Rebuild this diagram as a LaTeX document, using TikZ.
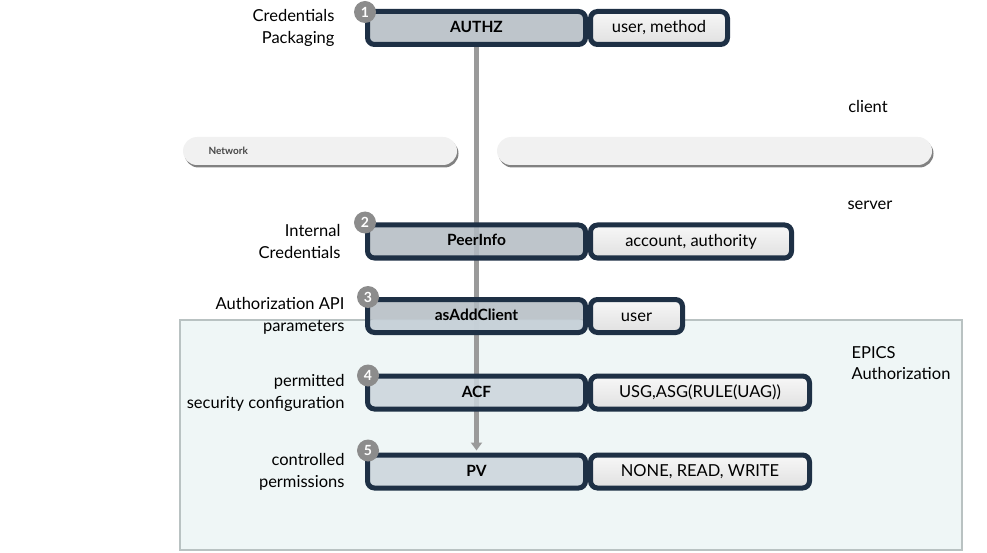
\documentclass[tikz,border=0pt]{standalone}
\usepackage{fontspec}
\setmainfont{Lato}
\usetikzlibrary{arrows.meta,shadows,backgrounds}

\definecolor{navy}{HTML}{1E3045}
\definecolor{boxgray}{HTML}{B3BBC2}
\definecolor{boxlight}{HTML}{CBD5DC}
\definecolor{regionfill}{HTML}{EFF6F6}
\definecolor{regionline}{HTML}{B9C2C2}
\definecolor{numgray}{HTML}{8C8C8C}
\definecolor{linegray}{HTML}{9A9A9A}
\definecolor{pillfill}{HTML}{F1F1F1}

\begin{document}
\begin{tikzpicture}[x=1pt,y=-1pt,
  mainbox/.style={draw=navy, line width=5pt, rounded corners=7pt, fill=boxgray,
    fill opacity=0.85, text opacity=1, minimum width=218pt, minimum height=33pt,
    inner sep=0pt, text height=12pt, text depth=3pt,
    font=\fontsize{15.5}{16}\selectfont\bfseries},
  valbox/.style={draw=navy, line width=5pt, rounded corners=7pt, top color=gray!6,
    bottom color=gray!24, minimum height=33pt, inner sep=0pt, anchor=west,
    text height=13pt, text depth=3pt, font=\fontsize{16.5}{18}\selectfont},
  stepnum/.style={circle, fill=numgray, text=white, minimum size=22pt, inner sep=0pt,
    font=\fontsize{14}{14}\selectfont\bfseries},
  sidelabel/.style={anchor=east, align=right, font=\fontsize{16.5}{22}\selectfont},
  netpill/.style={rounded corners=14pt, fill=pillfill, minimum height=28pt,
    drop shadow={shadow xshift=1.5pt, shadow yshift=-2.5pt, opacity=0.9, fill=black!55}},
  plain/.style={font=\fontsize{16.5}{21}\selectfont},
]
\useasboundingbox (0,0) rectangle (987,553);

% area of EPICS Authorization
\begin{scope}[on background layer]
  \node[draw=regionline, fill=regionfill, line width=1.5pt, minimum width=782pt,
    minimum height=230pt] (epics) at (571,435) {};
\end{scope}
\node[plain, anchor=west, align=left] (epicslab) at (848,363) {EPICS\\Authorization};

% network
\node[netpill, minimum width=274pt] (netleft) at (320,151) {};
\node[netpill, minimum width=435pt] (netright) at (714.5,151) {};
\node[anchor=west, text=black!72, font=\fontsize{10}{10}\selectfont\bfseries] (nettext) at (205,151) {Network};
\node[plain] (client) at (868,106) {client};
\node[plain] (server) at (870,205) {server};

% steps
\node[mainbox] (authz) at (476.5,28) {AUTHZ};
\node[mainbox] (peer) at (476.5,241.5) {PeerInfo};
\node[mainbox, path picture={\fill[boxlight] (path picture bounding box.south west)
    rectangle (path picture bounding box.east |- epics.north);}] (addclient) at (476.5,316) {asAddClient};
\node[mainbox, fill=boxlight] (acf) at (476.5,392.5) {ACF};
\node[mainbox, fill=boxlight] (pv) at (476.5,471.5) {PV};

\node[valbox, minimum width=137pt] (authzval) at (authz.east) {user, method};
\node[valbox, minimum width=201pt] (peerval) at (peer.east) {account, authority};
\node[valbox, minimum width=92pt] (addclientval) at (addclient.east) {user};
\node[valbox, minimum width=219pt] (acfval) at (acf.east) {USG,ASG(RULE(UAG))};
\node[valbox, minimum width=219pt] (pvval) at (pv.east) {NONE, READ, WRITE};

\node[stepnum] (n1) at ([yshift=-3pt]authz.north west) {1};
\node[stepnum] (n2) at (peer.north west) {2};
\node[stepnum] (n3) at ([xshift=3pt]addclient.north west) {3};
\node[stepnum] (n4) at ([xshift=3pt,yshift=-2pt]acf.north west) {4};
\node[stepnum] (n5) at ([xshift=3pt,yshift=2pt]pv.north west) {5};

\node[sidelabel] (lab1) at (338,28) {Credentials\\Packaging};
\node[sidelabel] (lab2) at (344,241.5) {Internal\\Credentials};
\node[sidelabel] (lab3) at (348,316) {Authorization API\\parameters};
\node[sidelabel] (lab4) at (348,392.5) {permitted\\security configuration};
\node[sidelabel] (lab5) at (348,471.5) {controlled\\permissions};

% flow
\begin{scope}[on background layer]
  \draw[linegray, line width=5pt, -{Triangle[width=11pt,length=8pt]}, shorten >=2pt]
    (authz.south) -- (pv.north);
\end{scope}
\end{tikzpicture}
\end{document}
